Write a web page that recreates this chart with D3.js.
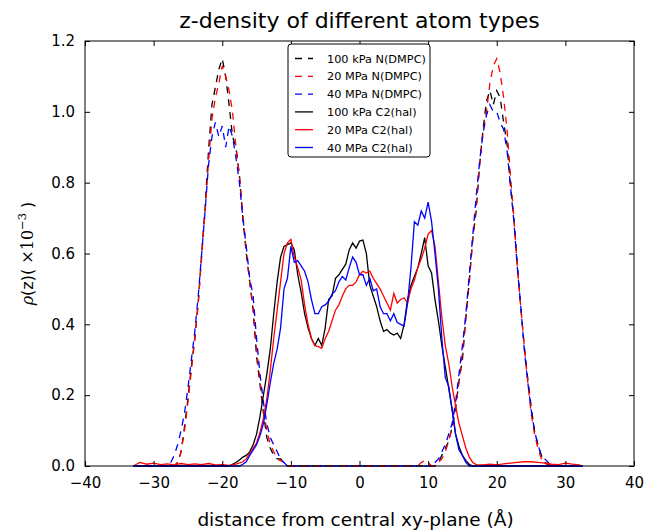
<!DOCTYPE html>
<html>
<head>
<meta charset="utf-8">
<script src="https://cdn.jsdelivr.net/npm/d3@7"></script>
<style>
  body { margin: 0; background: #fff; }
  text { font-family: "DejaVu Sans", sans-serif; }
</style>
</head>
<body>
<div id="chart"></div>
<script>
// z (Angstrom) and rho(z) (x 1e-3)

// N(DMPC) at 100 kPa
var n100kPa = [[-33,0],[-27,0],[-26.5,0.01],[-26,0.04],[-25.5,0.11],[-25,0.19],[-24.5,0.28],[-24,0.36],[-23.5,0.46],[-23,0.6],[-22.5,0.73],[-22,0.89],[-21.5,1.02],[-21,1.07],[-20.5,1.12],[-20,1.15],[-19.5,1.1],[-19,1.02],[-18.5,0.93],[-18,0.9],[-17.5,0.82],[-17,0.7],[-16.5,0.6],[-16,0.52],[-15.5,0.44],[-15,0.31],[-14.5,0.23],[-14,0.15],[-13.5,0.08],[-13,0.05],[-12.5,0.03],[-12,0.02],[-11.5,0.02],[-11,0.01],[-10.5,0],[0,0],[11,0],[11.5,0.01],[12,0.03],[12.5,0.05],[13,0.07],[13.5,0.11],[14,0.16],[14.5,0.24],[15,0.3],[15.5,0.42],[16,0.52],[16.5,0.64],[17,0.72],[17.5,0.85],[18,0.95],[18.5,1.03],[19,1.06],[19.5,1.02],[20,1.06],[20.5,1.04],[21,0.97],[21.5,0.91],[22,0.79],[22.5,0.7],[23,0.57],[23.5,0.45],[24,0.34],[24.5,0.25],[25,0.17],[25.5,0.1],[26,0.06],[26.5,0.03],[27,0.01],[27.5,0.005],[28,0],[32.5,0]];

// N(DMPC) at 20 MPa
var n20MPa = [[-33,0],[-27,0],[-26.5,0.01],[-26,0.04],[-25.5,0.1],[-25,0.18],[-24.5,0.27],[-24,0.36],[-23.5,0.46],[-23,0.59],[-22.5,0.72],[-22,0.86],[-21.5,0.98],[-21,1.04],[-20.5,1.08],[-20,1.13],[-19.5,1.1],[-19,1.06],[-18.5,1.0],[-18,0.9],[-17.5,0.82],[-17,0.71],[-16.5,0.61],[-16,0.52],[-15.5,0.45],[-15,0.33],[-14.5,0.24],[-14,0.16],[-13.5,0.1],[-13,0.06],[-12.5,0.04],[-12,0.02],[-11.5,0.015],[-11,0.01],[-10.5,0],[0,0],[8.5,0],[9,0.01],[9.5,0.015],[10,0.01],[10.5,0],[11,0],[11.5,0.01],[12,0.02],[12.5,0.04],[13,0.07],[13.5,0.11],[14,0.17],[14.5,0.24],[15,0.32],[15.5,0.42],[16,0.53],[16.5,0.64],[17,0.74],[17.5,0.85],[18,0.94],[18.5,1.0],[19,1.08],[19.5,1.13],[20,1.15],[20.5,1.11],[21,1.04],[21.5,0.95],[22,0.82],[22.5,0.7],[23,0.56],[23.5,0.45],[24,0.34],[24.5,0.24],[25,0.15],[25.5,0.09],[26,0.05],[26.5,0.02],[27,0.01],[27.5,0],[32.5,0]];

// N(DMPC) at 40 MPa
var n40MPa = [[-33,0],[-28,0],[-27.5,0.01],[-27,0.03],[-26.5,0.06],[-26,0.1],[-25.5,0.15],[-25,0.22],[-24.5,0.3],[-24,0.38],[-23.5,0.48],[-23,0.6],[-22.5,0.72],[-22,0.85],[-21.5,0.93],[-21,0.97],[-20.5,0.93],[-20,0.96],[-19.5,0.9],[-19,0.96],[-18.5,0.93],[-18,0.87],[-17.5,0.8],[-17,0.7],[-16.5,0.62],[-16,0.53],[-15.5,0.48],[-15,0.36],[-14.5,0.26],[-14,0.18],[-13.5,0.12],[-13,0.08],[-12.5,0.06],[-12,0.04],[-11.5,0.02],[-11,0.01],[-10.5,0],[0,0],[10.5,0],[11,0.01],[11.5,0.02],[12,0.04],[12.5,0.06],[13,0.09],[13.5,0.12],[14,0.18],[14.5,0.26],[15,0.34],[15.5,0.43],[16,0.54],[16.5,0.65],[17,0.76],[17.5,0.86],[18,0.94],[18.5,0.99],[19,1.02],[19.5,1.0],[20,1.0],[20.5,0.97],[21,0.95],[21.5,0.89],[22,0.79],[22.5,0.69],[23,0.56],[23.5,0.45],[24,0.33],[24.5,0.24],[25,0.16],[25.5,0.1],[26,0.06],[26.5,0.03],[27,0.02],[27.5,0.01],[28,0],[32.5,0]];

// C2(hal) at 100 kPa
var c100kPa = [[-33,0],[-19,0],[-18.5,0.005],[-18,0.01],[-17.5,0.017],[-17,0.025],[-16.5,0.03],[-16,0.04],[-15.5,0.06],[-15,0.09],[-14.5,0.14],[-14,0.2],[-13.5,0.26],[-13,0.33],[-12.5,0.43],[-12,0.52],[-11.5,0.59],[-11,0.62],[-10.5,0.625],[-10,0.63],[-9.5,0.61],[-9,0.54],[-8.5,0.49],[-8,0.43],[-7.5,0.39],[-7,0.36],[-6.5,0.34],[-6,0.36],[-5.5,0.34],[-5,0.39],[-4.5,0.47],[-4,0.48],[-3.5,0.53],[-3,0.54],[-2.5,0.555],[-2,0.57],[-1.5,0.61],[-1,0.63],[-0.5,0.615],[0,0.635],[0.5,0.638],[1,0.6],[1.5,0.51],[2,0.48],[2.5,0.45],[3,0.41],[3.5,0.38],[4,0.385],[4.5,0.375],[5,0.37],[5.5,0.375],[6,0.36],[6.5,0.4],[7,0.47],[7.5,0.51],[8,0.535],[8.5,0.56],[9,0.6],[9.5,0.645],[10,0.565],[10.5,0.545],[11,0.47],[11.5,0.41],[12,0.34],[12.5,0.28],[13,0.22],[13.5,0.16],[14,0.09],[14.5,0.055],[15,0.03],[15.5,0.015],[16,0.005],[16.5,0],[32.5,0]];

// C2(hal) at 20 MPa
var c20MPa = [[-33,0],[-32.5,0.005],[-32,0.01],[-31,0.005],[-30,0.008],[-29,0.004],[-28,0.006],[-27,0.003],[-26,0.007],[-25,0.004],[-24,0.006],[-23,0.004],[-22,0.007],[-21,0.003],[-20,0.004],[-19,0.002],[-18,0.005],[-17,0.012],[-16.5,0.02],[-16,0.036],[-15.5,0.05],[-15,0.065],[-14.5,0.095],[-14,0.135],[-13.5,0.19],[-13,0.27],[-12.5,0.36],[-12,0.44],[-11.5,0.52],[-11,0.6],[-10.5,0.63],[-10,0.64],[-9.5,0.59],[-9,0.56],[-8.5,0.525],[-8,0.455],[-7.5,0.4],[-7,0.36],[-6.5,0.34],[-6,0.337],[-5.5,0.332],[-5,0.36],[-4.5,0.38],[-4,0.41],[-3.5,0.44],[-3,0.455],[-2.5,0.48],[-2,0.5],[-1.5,0.51],[-1,0.51],[-0.5,0.52],[0,0.54],[0.5,0.55],[1,0.545],[1.5,0.55],[2,0.53],[2.5,0.515],[3,0.5],[3.5,0.48],[4,0.46],[4.5,0.44],[5,0.487],[5.5,0.46],[6,0.47],[6.5,0.475],[7,0.46],[7.5,0.5],[8,0.525],[8.5,0.56],[9,0.585],[9.5,0.615],[10,0.655],[10.5,0.665],[11,0.62],[11.5,0.52],[12,0.42],[12.5,0.34],[13,0.29],[13.5,0.224],[14,0.17],[14.5,0.12],[15,0.085],[15.5,0.05],[16,0.025],[16.5,0.01],[17,0.004],[18,0.003],[19,0.005],[20,0.003],[21,0.006],[22,0.008],[23,0.01],[24,0.012],[25,0.012],[26,0.01],[27,0.008],[28,0.005],[29,0.004],[30,0.008],[31,0.005],[32,0.003],[32.5,0]];

// C2(hal) at 40 MPa
var c40MPa = [[-33,0],[-17.5,0],[-17,0.005],[-16.5,0.012],[-16,0.03],[-15.5,0.045],[-15,0.06],[-14.5,0.085],[-14,0.12],[-13.5,0.175],[-13,0.235],[-12.5,0.29],[-12,0.33],[-11.5,0.39],[-11,0.5],[-10.5,0.53],[-10,0.62],[-9.5,0.575],[-9,0.58],[-8.5,0.565],[-8,0.55],[-7.5,0.52],[-7,0.47],[-6.5,0.43],[-6,0.43],[-5.5,0.45],[-5,0.455],[-4.5,0.465],[-4,0.485],[-3.5,0.495],[-3,0.52],[-2.5,0.535],[-2,0.525],[-1.5,0.56],[-1,0.59],[-0.5,0.575],[0,0.54],[0.5,0.54],[1,0.51],[1.5,0.53],[2,0.495],[2.5,0.5],[3,0.45],[3.5,0.43],[4,0.43],[4.5,0.41],[5,0.43],[5.5,0.405],[6,0.4],[6.5,0.395],[7,0.46],[7.5,0.56],[8,0.69],[8.5,0.68],[9,0.72],[9.5,0.7],[10,0.745],[10.5,0.69],[11,0.6],[11.5,0.5],[12,0.36],[12.5,0.25],[13,0.225],[13.5,0.158],[14,0.09],[14.5,0.045],[15,0.03],[15.5,0.01],[16,0],[32.5,0]];

var seriesNames = ["100 kPa N(DMPC)", "20 MPa N(DMPC)", "40 MPa N(DMPC)",
                   "100 kPa C2(hal)", "20 MPa C2(hal)", "40 MPa C2(hal)"];
var seriesData = [n100kPa, n20MPa, n40MPa, c100kPa, c20MPa, c40MPa];
var seriesColors = ["#000000", "#ff0000", "#0000ff", "#000000", "#ff0000", "#0000ff"];
var seriesDashed = [true, true, true, false, false, false];

var xTicks = [-40, -30, -20, -10, 0, 10, 20, 30, 40];
var yTicks = [0.0, 0.2, 0.4, 0.6, 0.8, 1.0, 1.2];

// layout
var W = 649, H = 530;
var margin = {top: 41, right: 15, bottom: 64, left: 85},
    width = W - margin.left - margin.right,
    height = H - margin.top - margin.bottom;

var svg = d3.select("#chart")
  .append("svg")
  .attr("width", W)
  .attr("height", H);

var g = svg.append("g")
  .attr("transform", "translate(" + margin.left + "," + margin.top + ")");

var x = d3.scaleLinear().domain([-40, 40]).range([0, width]);
var y = d3.scaleLinear().domain([0, 1.2]).range([height, 0]);

g.append("clipPath").attr("id", "clip")
  .append("rect").attr("x", -1).attr("y", -1).attr("width", width + 2).attr("height", height + 2);

// the curves
var line = d3.line()
  .x(function(d) { return x(d[0]); })
  .y(function(d) { return y(d[1]); });

seriesData.forEach(function(data, i) {
  g.append("path")
    .datum(data)
    .attr("clip-path", "url(#clip)")
    .attr("fill", "none")
    .attr("stroke", seriesColors[i])
    .attr("stroke-width", 1.3)
    .attr("stroke-dasharray", seriesDashed[i] ? "7,6" : null)
    .attr("d", line);
});

// frame + inward ticks on all four sides
var tickLen = 5;
function styleAxis(sel) {
  sel.select(".domain").remove();
  sel.selectAll(".tick line").attr("stroke", "#000").attr("stroke-width", 1);
  sel.selectAll("text").attr("font-size", 15).attr("fill", "#000")
    .style("font-family", "'DejaVu Sans', sans-serif");
}

g.append("g")
  .attr("transform", "translate(0," + height + ")")
  .call(d3.axisBottom(x).tickValues(xTicks).tickSizeInner(-tickLen).tickSizeOuter(0).tickPadding(11)
    .tickFormat(function(d) { return d3.format("")(d).replace("-", "\u2212"); }))
  .call(styleAxis);

g.append("g")
  .call(d3.axisTop(x).tickValues(xTicks).tickSizeInner(-tickLen).tickSizeOuter(0).tickFormat(""))
  .call(styleAxis);

g.append("g")
  .call(d3.axisLeft(y).tickValues(yTicks).tickSizeInner(-tickLen).tickSizeOuter(0).tickPadding(10)
    .tickFormat(d3.format(".1f")))
  .call(styleAxis);

g.append("g")
  .attr("transform", "translate(" + width + ",0)")
  .call(d3.axisRight(y).tickValues(yTicks).tickSizeInner(-tickLen).tickSizeOuter(0).tickFormat(""))
  .call(styleAxis);

g.append("rect")
  .attr("width", width)
  .attr("height", height)
  .attr("fill", "none")
  .attr("stroke", "#000")
  .attr("stroke-width", 1);

// title and axis labels
svg.append("text")
  .attr("x", margin.left + width / 2)
  .attr("y", 28)
  .attr("text-anchor", "middle")
  .attr("font-size", 22)
  .text("z-density of different atom types");

svg.append("text")
  .attr("x", margin.left + width / 2 - 4)
  .attr("y", 526)
  .attr("text-anchor", "middle")
  .attr("font-size", 18.5)
  .text("distance from central xy-plane (\u00c5)");

var ylab = svg.append("text")
  .attr("transform", "translate(33," + (margin.top + height / 2) + ") rotate(-90)")
  .attr("text-anchor", "middle")
  .attr("font-size", 16);
ylab.append("tspan").attr("font-style", "italic").style("font-family", "'DejaVu Serif', serif").text("\u03c1");
ylab.append("tspan").text("(z)( ");
ylab.append("tspan").style("font-family", "'DejaVu Serif', serif").text("\u00d710");
ylab.append("tspan").attr("dy", -7).attr("font-size", 11.5).style("font-family", "'DejaVu Serif', serif").text("\u22123");
ylab.append("tspan").attr("dy", 7).text(" )");

// legend
var legX = 288 - margin.left, legY = 44 - margin.top, legW = 142, legH = 113, rowH = 17.8;
var legend = g.append("g").attr("transform", "translate(" + legX + "," + legY + ")");
legend.append("rect")
  .attr("width", legW).attr("height", legH)
  .attr("rx", 3).attr("ry", 3)
  .attr("fill", "#fff").attr("stroke", "#000").attr("stroke-width", 1);

seriesNames.forEach(function(name, i) {
  var ry = 14.5 + i * rowH;
  legend.append("line")
    .attr("x1", 7).attr("x2", 25).attr("y1", ry).attr("y2", ry)
    .attr("stroke", seriesColors[i])
    .attr("stroke-width", 1.3)
    .attr("stroke-dasharray", seriesDashed[i] ? "7,6" : null);
  legend.append("text")
    .attr("x", 39).attr("y", ry + 4)
    .attr("font-size", 11.3)
    .text(name);
});
</script>
</body>
</html>
